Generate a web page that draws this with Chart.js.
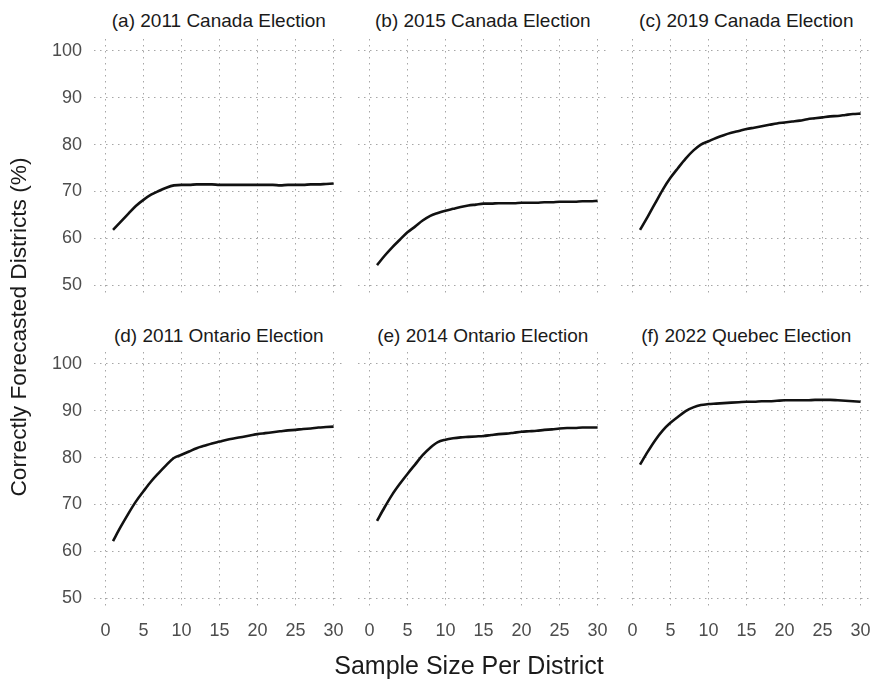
<!DOCTYPE html>
<html>
<head>
<meta charset="utf-8">
<script src="https://cdn.jsdelivr.net/npm/chart.js@4.4.1/dist/chart.umd.min.js"></script>
<style>
  html, body { margin: 0; padding: 0; background: #ffffff; }
  #fig { position: relative; width: 873px; height: 684px; overflow: hidden;
         font-family: "Liberation Sans", Arial, sans-serif; }
  .panel { position: absolute; }
  .ptitle { position: absolute; font-size: 19px; line-height: 19px; color: #1a1a1a;
            white-space: nowrap; text-align: center; }
  .axtitle { position: absolute; line-height: 24px; color: #1a1a1a;
             white-space: nowrap; text-align: center; }
</style>
</head>
<body>
<div id="fig"></div>
<script>
// Sample size per district (x) shared by every panel
const sampleSizes = [1, 2, 3, 4, 5, 6, 7, 8, 9, 10, 11, 12, 13, 14, 15,
                     16, 17, 18, 19, 20, 21, 22, 23, 24, 25, 26, 27, 28, 29, 30];

// Correctly forecasted districts (%) per election
const canada2011 = [61.8, 63.5, 65.2, 66.9, 68.2, 69.3, 70.1, 70.8, 71.3, 71.4,
                    71.4, 71.5, 71.5, 71.5, 71.4, 71.4, 71.4, 71.4, 71.4, 71.4,
                    71.4, 71.4, 71.3, 71.4, 71.4, 71.4, 71.5, 71.5, 71.6, 71.7];
const canada2015 = [54.3, 56.3, 58.1, 59.7, 61.3, 62.5, 63.8, 64.8, 65.4, 65.9,
                    66.3, 66.7, 67.0, 67.2, 67.4, 67.4, 67.5, 67.5, 67.5, 67.6,
                    67.6, 67.6, 67.7, 67.7, 67.8, 67.8, 67.8, 67.9, 67.9, 68.0];
const canada2019 = [61.8, 64.6, 67.5, 70.4, 72.9, 75.0, 77.0, 78.7, 80.0, 80.7,
                    81.4, 82.0, 82.5, 82.9, 83.3, 83.6, 83.9, 84.2, 84.5, 84.7,
                    84.9, 85.1, 85.4, 85.6, 85.8, 86.0, 86.1, 86.3, 86.5, 86.6];
const ontario2011 = [62.2, 65.2, 68.0, 70.6, 72.8, 74.9, 76.7, 78.4, 79.9, 80.6,
                     81.3, 82.0, 82.5, 83.0, 83.4, 83.8, 84.1, 84.4, 84.7, 85.0,
                     85.2, 85.4, 85.6, 85.8, 85.9, 86.1, 86.2, 86.4, 86.5, 86.6];
const ontario2014 = [66.5, 69.4, 72.1, 74.4, 76.5, 78.5, 80.5, 82.1, 83.3, 83.8,
                     84.1, 84.3, 84.4, 84.5, 84.6, 84.8, 85.0, 85.1, 85.3, 85.5,
                     85.6, 85.7, 85.9, 86.0, 86.2, 86.3, 86.3, 86.4, 86.4, 86.4];
const quebec2022 = [78.5, 81.2, 83.7, 85.8, 87.4, 88.7, 89.9, 90.7, 91.2, 91.4,
                    91.5, 91.6, 91.7, 91.8, 91.9, 91.9, 92.0, 92.0, 92.1, 92.2,
                    92.2, 92.2, 92.2, 92.3, 92.3, 92.3, 92.2, 92.1, 92.0, 91.9];

// Tick labels
const xTicks = [0, 5, 10, 15, 20, 25, 30];
const yTicks = [50, 60, 70, 80, 90, 100];

// Panel titles
const panelTitles = ["(a) 2011 Canada Election", "(b) 2015 Canada Election", "(c) 2019 Canada Election",
                     "(d) 2011 Ontario Election", "(e) 2014 Ontario Election", "(f) 2022 Quebec Election"];
const panelSeries = [canada2011, canada2015, canada2019, ontario2011, ontario2014, quebec2022];

const xTitle = "Sample Size Per District";
const yTitle = "Correctly Forecasted Districts (%)";

// ---- layout (pixels) ----
const colLeft = [93.5, 357.5, 621.0];
const rowTop = [39.3, 352.0];
const titleTop = [10.8, 325.5];
const plotW = 250.6;
const plotH = 258.1;
const yAxisW = 70;   // room for y tick labels on the left column
const xAxisH = 45;   // room for x tick labels on the bottom row

const fig = document.getElementById('fig');
const tickFont = { family: "'Liberation Sans', Arial, sans-serif", size: 18 };
const tickColor = '#4d4d4d';
const gridColor = '#a6a6a6';

// keep each scale at a fixed size and stop it from reserving label overflow space
function pinScale(s, size) {
  if (s.isHorizontal()) { s.height = size; } else { s.width = size; }
  s.paddingTop = 0; s.paddingBottom = 0; s.paddingLeft = 0; s.paddingRight = 0;
}

panelSeries.forEach((series, idx) => {
  const row = Math.floor(idx / 3);
  const col = idx % 3;
  const showY = col === 0;
  const showX = row === 1;
  const yw = showY ? yAxisW : 0;
  const xh = showX ? xAxisH : 0;

  const left = colLeft[col] - yw;
  const top = rowTop[row];
  const w = plotW + yw;
  const h = plotH + xh;

  const box = document.createElement('div');
  box.className = 'panel';
  box.style.left = left + 'px';
  box.style.top = top + 'px';
  box.style.width = w + 'px';
  box.style.height = h + 'px';
  const cv = document.createElement('canvas');
  cv.width = Math.round(w);
  cv.height = Math.round(h);
  cv.style.width = Math.round(w) + 'px';
  cv.style.height = Math.round(h) + 'px';
  box.appendChild(cv);
  fig.appendChild(box);

  const t = document.createElement('div');
  t.className = 'ptitle';
  t.textContent = panelTitles[idx];
  t.style.left = (colLeft[col] + plotW / 2 - 150) + 'px';
  t.style.width = '300px';
  t.style.top = titleTop[row] + 'px';
  fig.appendChild(t);

  new Chart(cv, {
    type: 'line',
    data: {
      datasets: [{
        data: sampleSizes.map((s, i) => ({ x: s, y: series[i] })),
        borderColor: '#111111',
        borderWidth: 2.6,
        pointRadius: 0,
        cubicInterpolationMode: 'monotone',
        fill: false
      }]
    },
    options: {
      responsive: false,
      animation: false,
      devicePixelRatio: 1,
      layout: { padding: 0 },
      plugins: { legend: { display: false }, tooltip: { enabled: false }, title: { display: false } },
      scales: {
        x: {
          type: 'linear',
          min: -1.5,
          max: 31.5,
          afterBuildTicks: s => { s.ticks = xTicks.map(v => ({ value: v })); },
          afterFit: s => pinScale(s, xh),
          grid: { color: gridColor, lineWidth: 1, drawTicks: false },
          border: { display: false, dash: [1.5, 4.5] },
          ticks: { display: showX, font: tickFont, color: tickColor, padding: 10, maxRotation: 0,
                   autoSkip: false, callback: v => String(v) }
        },
        y: {
          type: 'linear',
          min: 47.5,
          max: 102.5,
          afterBuildTicks: s => { s.ticks = yTicks.map(v => ({ value: v })); },
          afterFit: s => pinScale(s, yw),
          grid: { color: gridColor, lineWidth: 1, drawTicks: false },
          border: { display: false, dash: [1.5, 4.5] },
          ticks: { display: showY, font: tickFont, color: tickColor, padding: 12,
                   autoSkip: false, callback: v => String(v) }
        }
      }
    }
  });
});

// axis titles
const xt = document.createElement('div');
xt.className = 'axtitle';
xt.textContent = xTitle;
xt.style.fontSize = '25px';
xt.style.left = (469 - 200) + 'px';
xt.style.width = '400px';
xt.style.top = (665 - 12) + 'px';
fig.appendChild(xt);

const yt = document.createElement('div');
yt.className = 'axtitle';
yt.textContent = yTitle;
yt.style.fontSize = '22.7px';
yt.style.width = '400px';
yt.style.left = (18 - 200) + 'px';
yt.style.top = (327 - 12) + 'px';
yt.style.transform = 'rotate(-90deg)';
yt.style.transformOrigin = '200px 12px';
fig.appendChild(yt);
</script>
</body>
</html>
